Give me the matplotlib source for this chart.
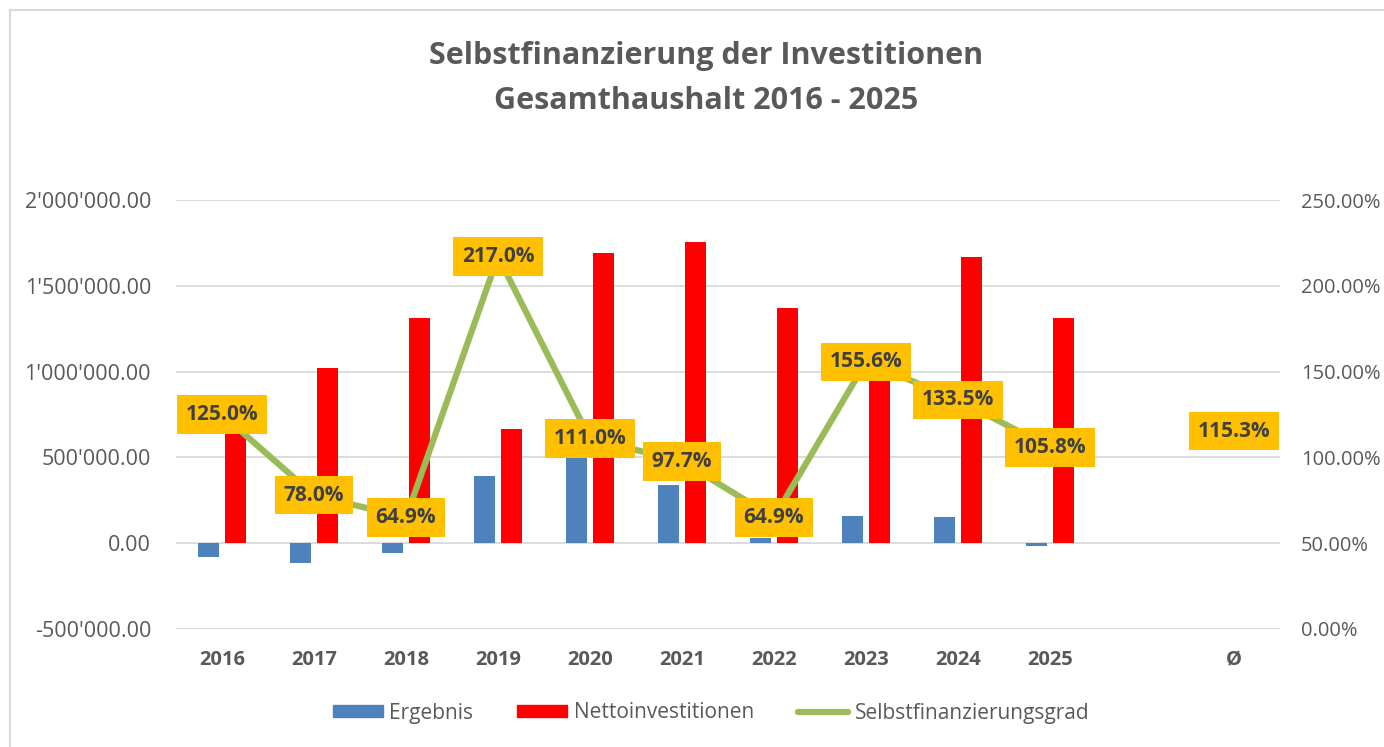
import matplotlib
matplotlib.use("Agg")
import matplotlib.pyplot as plt
import numpy as np
from matplotlib.patches import Rectangle
from matplotlib.lines import Line2D
from matplotlib.ticker import FuncFormatter

plt.rcParams['font.family'] = ['Open Sans', 'DejaVu Sans']

categories = ["2016", "2017", "2018", "2019", "2020", "2021", "2022", "2023", "2024", "2025", "", "Ø"]
ergebnis = [-80000, -118000, -56000, 391000, 520000, 338000, 31000, 157000, 153000, -16000, np.nan, np.nan]
netto = [650000, 1022000, 1314000, 663000, 1689000, 1753000, 1368000, 960000, 1669000, 1310000, np.nan, np.nan]
grad = [125.0, 78.0, 64.9, 217.0, 111.0, 97.7, 64.9, 155.6, 133.5, 105.8, np.nan, 115.3]

fig = plt.figure(figsize=(13.84, 7.47), dpi=100)
ax = fig.add_axes([176/1384, 1-629/747, (1280-176)/1384, (629-200)/747])
ax2 = ax.twinx()

x = np.arange(len(categories))
w = 0.225
off = 0.143
ax.bar(x - off, ergebnis, w, color='#4F81BD', zorder=2)
ax.bar(x + off, netto, w, color='#FF0000', zorder=2)

ax.set_ylim(-500000, 2000000)
ax.set_yticks(np.arange(-500000, 2000001, 500000))
ax.yaxis.set_major_formatter(FuncFormatter(lambda v, p: f"{v:,.2f}".replace(",", "'")))
ax.set_xlim(-0.5, len(categories) - 0.5)
ax.set_xticks(x)
ax.set_xticklabels(categories, fontweight='bold', fontsize=14.5, color='#595959')
ax.grid(axis='y', color='#D9D9D9', linewidth=1.3, zorder=0)
ax.set_axisbelow(True)
for s in ax.spines.values():
    s.set_visible(False)
for s in ax2.spines.values():
    s.set_visible(False)
ax.tick_params(axis='y', length=0, labelsize=15.5, labelcolor='#595959', pad=18)
ax.tick_params(axis='x', length=0, pad=15)

gvals = np.array(grad)
ax2.plot(x[:10], gvals[:10], color='#9BBB59', linewidth=4.5, zorder=3, solid_capstyle='round')
ax2.set_ylim(0, 250)
ax2.set_yticks(np.arange(0, 251, 50))
ax2.yaxis.set_major_formatter(FuncFormatter(lambda v, p: f"{v:.2f}%"))
ax2.tick_params(axis='y', length=0, labelsize=14.5, labelcolor='#595959', pad=15)

for xi, g in zip(x, grad):
    if np.isnan(g):
        continue
    ax2.text(xi, g, f"{g:.1f}%", ha='center', va='center', fontsize=15, fontweight='bold',
             color='#404040', zorder=5,
             bbox=dict(boxstyle='square,pad=0.42', facecolor='#FFC000', edgecolor='none'))

fig.text(706/1384, 1-56/747, "Selbstfinanzierung der Investitionen", ha='center', va='center',
         fontsize=22, fontweight='bold', color='#595959')
fig.text(706/1384, 1-101/747, "Gesamthaushalt 2016 - 2025", ha='center', va='center',
         fontsize=22, fontweight='bold', color='#595959')

handles = [Rectangle((0, 0), 1, 1, color='#4F81BD'),
           Rectangle((0, 0), 1, 1, color='#FF0000'),
           Line2D([0], [0], color='#9BBB59', linewidth=4.5, solid_capstyle='round')]
leg = fig.legend(handles, ["Ergebnis", "Nettoinvestitionen", "Selbstfinanzierungsgrad"],
                 loc='center', bbox_to_anchor=(711/1384, 1-713/747), ncol=3, frameon=False,
                 fontsize=15, handlelength=2.4, handleheight=0.55, columnspacing=2.1, handletextpad=0.33)
for t in leg.get_texts():
    t.set_color('#595959')

fig.patches.append(Rectangle((10/1384, -0.01), 1.1, 1 - 10/747 + 0.01, transform=fig.transFigure,
                             fill=False, edgecolor='#D9D9D9', linewidth=1.5))

fig.savefig("out.png", dpi=100)
